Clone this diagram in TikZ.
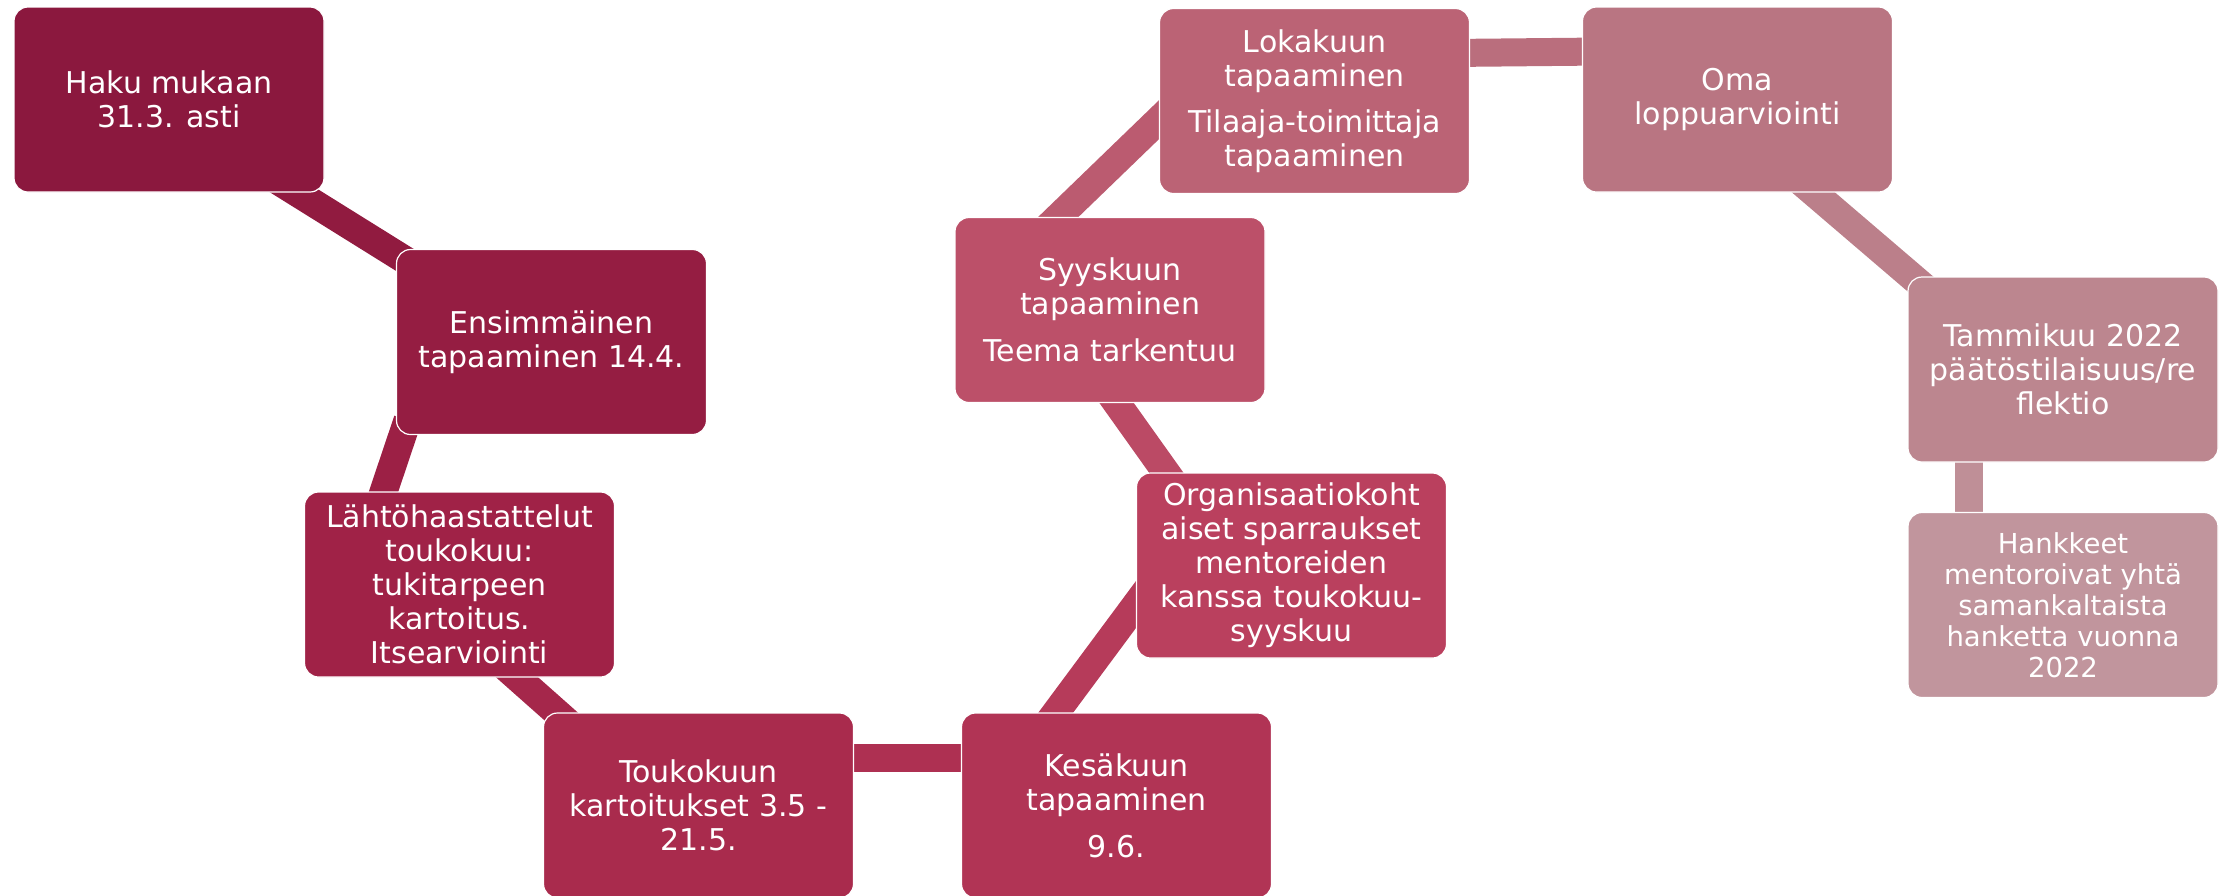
\documentclass[tikz,border=0pt]{standalone}
\usepackage{fontspec}
\setmainfont{DejaVu Sans}
\usetikzlibrary{calc,backgrounds}
\definecolor{berryA}{RGB}{139, 24, 62}
\definecolor{berryB}{RGB}{149, 29, 66}
\definecolor{berryC}{RGB}{160, 34, 71}
\definecolor{berryD}{RGB}{169, 43, 77}
\definecolor{berryE}{RGB}{177, 52, 85}
\definecolor{berryF}{RGB}{186, 64, 94}
\definecolor{berryG}{RGB}{188, 80, 105}
\definecolor{berryH}{RGB}{187, 99, 117}
\definecolor{berryI}{RGB}{185, 117, 130}
\definecolor{berryJ}{RGB}{188, 134, 143}
\definecolor{berryK}{RGB}{193, 149, 157}

\begin{document}
\begin{tikzpicture}[x=1pt,y=-1pt]

\tikzstyle{stage} = [draw=white, line width=1.2, rounded corners=14,
    minimum width=310, minimum height=185, inner sep=0,
    align=center, text=white, font=\fontsize{30}{34}\selectfont]
\tikzstyle{link} = [line width=28]

\useasboundingbox (0,0) rectangle (2231,895);

% =========================
% boxes - left part
% =========================
\node[stage, fill=berryA] (haku) at (169,99.5) {Haku mukaan\\31.3. asti};
\node[stage, fill=berryB] (ensimmainen) at (551.5,342) {Ensimmäinen\\tapaaminen 14.4.};
\node[stage, fill=berryC] (lahto) at (459.5,584.5)
    {Lähtöhaastattelut\\toukokuu:\\tukitarpeen\\kartoitus.\\Itsearviointi};
\node[stage, fill=berryD] (toukokuu) at (698.5,805.5) {Toukokuun\\kartoitukset 3.5 -\\21.5.};
\node[stage, fill=berryE] (kesakuu) at (1116.5,805.5) {Kesäkuun\\tapaaminen\\[13pt]9.6.};

% =========================
% boxes - middle part
% =========================
\node[stage, fill=berryF] (sparraus) at (1291.5,565.5)
    {Organisaatiokoht\\aiset sparraukset\\mentoreiden\\kanssa toukokuu-\\syyskuu};
\node[stage, fill=berryG] (syyskuu) at (1110,310) {Syyskuun\\tapaaminen\\[13pt]Teema tarkentuu};
\node[stage, fill=berryH] (lokakuu) at (1314.5,101)
    {Lokakuun\\tapaaminen\\[12pt]Tilaaja-toimittaja\\tapaaminen};

% =========================
% boxes - right part
% =========================
\node[stage, fill=berryI] (oma) at (1737.5,99.5) {Oma\\loppuarviointi};
\node[stage, fill=berryJ] (tammikuu) at (2063,369.5) {Tammikuu 2022\\päätöstilaisuus/re\\flektio};
\node[stage, fill=berryK, font=\fontsize{27.5}{31}\selectfont] (hankkeet) at (2063,605)
    {Hankkeet\\mentoroivat yhtä\\samankaltaista\\hanketta vuonna\\2022};

% =========================
% bands between the boxes
% =========================
\begin{scope}[on background layer]
\draw[link, draw=berryA!40!berryB] ($(haku.south east)+(-64,-22.6)$) -- ($(ensimmainen.north west)+(34,26.6)$);
\draw[link, draw=berryB!40!berryC] ($(ensimmainen.south west)+(11.7,-15)$) -- ($(lahto.north west)+(72,23)$);
\draw[link, draw=berryC!40!berryD] ($(lahto.south east)+(-125,-24.2)$) -- ($(toukokuu.north west)+(47,29.5)$);
\draw[link, draw=berryD!40!berryE] ($(toukokuu.east)+(-20,-48)$) -- ($(kesakuu.west)+(20,-48)$);
\draw[link, draw=berryE!40!berryF] ($(kesakuu.north west)+(75,27)$) -- ($(sparraus.west)+(29,0)$);
\draw[link, draw=berryF!40!berryG] ($(sparraus.north west)+(49.4,27)$) -- ($(syyskuu.south east)+(-165.3,-23)$);
\draw[link, draw=berryG!40!berryH] ($(syyskuu.north west)+(75,28)$) -- ($(lokakuu.west)+(31,-11.2)$);
\draw[link, draw=berryH!40!berryI] ($(lokakuu.east)+(-20,-48)$) -- ($(oma.west)+(20,-48)$);
\draw[link, draw=berryI!40!berryJ] ($(oma.south east)+(-111,-27)$) -- ($(tammikuu.north west)+(32,23.8)$);
\draw[link, draw=berryJ!40!berryK] ($(tammikuu.south west)+(61.5,-20)$) -- ($(hankkeet.north west)+(61.5,20)$);
\end{scope}

\end{tikzpicture}
\end{document}
